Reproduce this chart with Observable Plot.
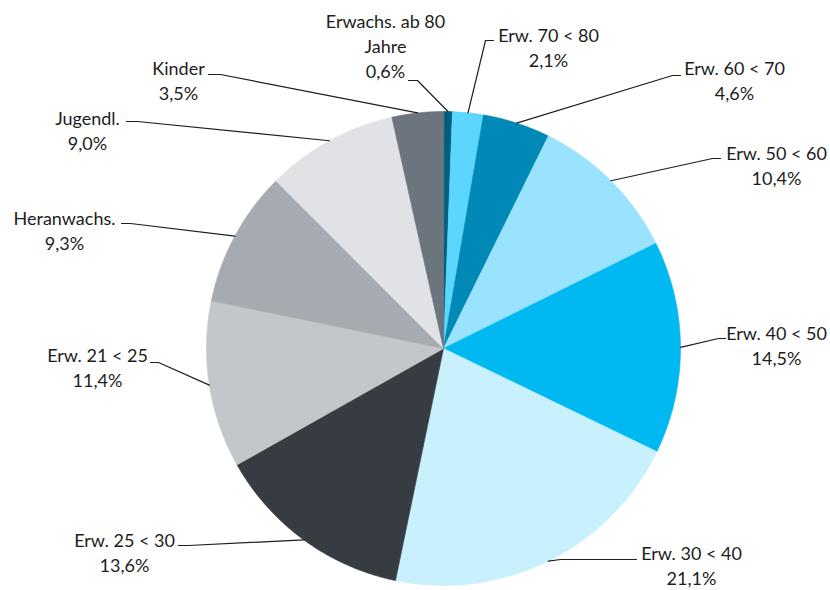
<!DOCTYPE html>
<html><head><meta charset="utf-8">
<script src="https://cdn.jsdelivr.net/npm/d3@7"></script>
<script src="https://cdn.jsdelivr.net/npm/@observablehq/plot@0.6"></script>
<style>body{margin:0;background:#fff}</style>
</head><body><div id="chart"></div>
<script>
// ---- data ----
const categories = ["Erwachs. ab 80 Jahre", "Erw. 70 < 80", "Erw. 60 < 70", "Erw. 50 < 60", "Erw. 40 < 50", "Erw. 30 < 40", "Erw. 25 < 30", "Erw. 21 < 25", "Heranwachs.", "Jugendl.", "Kinder"];
const labelNames = ["Erwachs. ab 80\nJahre", "Erw. 70 < 80", "Erw. 60 < 70", "Erw. 50 < 60", "Erw. 40 < 50", "Erw. 30 < 40", "Erw. 25 < 30", "Erw. 21 < 25", "Heranwachs.", "Jugendl.", "Kinder"];
const shares = [0.6, 2.1, 4.6, 10.4, 14.5, 21.1, 13.6, 11.4, 9.3, 9.0, 3.5];
const colors = ["#005f7e", "#5cd6ff", "#0088b6", "#9ae3ff", "#00b9f1", "#c8f0fd", "#373c42", "#c3c6ca", "#a6abb1", "#e1e2e5", "#6c747d"];

// ---- layout (pixels relative to the pie centre) ----
const R = 237;
const cx = 443, cy = 348;
const labelAt = [[385,10],[548,24],[734,57],[776,142],[776,322],[691,542],[124,529],[97,344],[64,207],[87,107],[178,57]];
const elbowAt = [[417,80],[485,40],[672,75],[712,158],[718,338],[560,559],[188,545],[158,362],[130,223],[137,121],[220,74]];
const endAt   = [[408,80],[493,40],[680,75],[720,158],[725,338],[636,559],[178,545],[150,362],[121,223],[126,121],[208,74]];

const arcs = d3.pie().sort(null).value(d => d)(shares);
const pt = (a, r) => ({x: r * Math.sin(a), y: -r * Math.cos(a)});

const slicePts = [];
arcs.forEach((a, i) => {
  const cat = categories[i];
  slicePts.push({cat, x: 0, y: 0});
  const n = Math.max(2, Math.ceil((a.endAngle - a.startAngle) / 0.004));
  for (let k = 0; k <= n; k++) {
    const t = a.startAngle + (a.endAngle - a.startAngle) * k / n;
    slicePts.push({cat, ...pt(t, R)});
  }
});

const leaderPts = [];
arcs.forEach((a, i) => {
  const cat = categories[i];
  const m = (a.startAngle + a.endAngle) / 2;
  leaderPts.push({cat, ...pt(m, R)});
  leaderPts.push({cat, x: elbowAt[i][0] - cx, y: elbowAt[i][1] - cy});
  leaderPts.push({cat, x: endAt[i][0] - cx, y: endAt[i][1] - cy});
});

const fmt = v => v.toFixed(1).replace(".", ",") + "%";
const labels = categories.map((c, i) => ({
  cat: c,
  x: labelAt[i][0] - cx,
  y: labelAt[i][1] - cy,
  text: labelNames[i] + "\n" + fmt(shares[i])
}));

const chart = Plot.plot({
  width: 830,
  height: 590,
  margin: 0,
  style: {fontFamily: "Lato", background: "#fff"},
  x: {domain: [-cx, 830 - cx], range: [0, 830], axis: null},
  y: {domain: [-cy, 590 - cy], range: [0, 590], axis: null},
  color: {domain: categories, range: colors},
  marks: [
    Plot.line(slicePts, {x: "x", y: "y", z: "cat", fill: "cat", stroke: "cat", strokeWidth: 0.6, curve: "linear-closed"}),
    Plot.line(leaderPts, {x: "x", y: "y", z: "cat", stroke: "#1d1d1b", strokeWidth: 1.2}),
    Plot.text(labels, {x: "x", y: "y", text: "text", textAnchor: "middle", lineAnchor: "top", lineHeight: 1.38, fontSize: 18, fill: "#1d1d1b"})
  ]
});
document.getElementById("chart").appendChild(chart);
</script>
</body></html>
